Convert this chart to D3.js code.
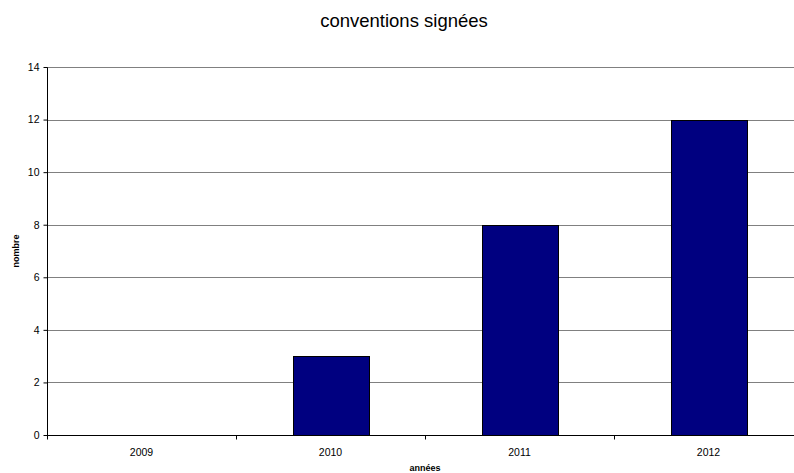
<!DOCTYPE html>
<html>
<head>
<meta charset="utf-8">
<script src="https://cdn.jsdelivr.net/npm/d3@7"></script>
<style>
  body { margin: 0; background: #fff; overflow: hidden; }
  text { font-family: "Liberation Sans", Arial, sans-serif; }
</style>
</head>
<body>
<script>
// données du graphique
var annees = ['2009', '2010', '2011', '2012'];
var conventions = [0, 3, 8, 12];
var yTicks = [0, 2, 4, 6, 8, 10, 12, 14];

var W = 794, H = 473;
var margin = {left: 47, right: -9, top: 67, bottom: 38}; // la zone dépasse à droite
var iw = W - margin.left - margin.right;
var ih = H - margin.top - margin.bottom;

var svg = d3.select('body').append('svg').attr('width', W).attr('height', H);
var g = svg.append('g').attr('transform', 'translate(' + margin.left + ',' + margin.top + ')');

var x = d3.scaleBand().domain(annees).range([0, iw]).paddingInner(0.6).paddingOuter(0.3);
var xb = d3.scaleBand().domain(annees).range([0, iw]); // bornes des catégories
var y = d3.scaleLinear().domain([0, 14]).range([ih, 0]);

// grille horizontale
g.selectAll('.grid').data(yTicks.filter(function(d){ return d > 0; }))
  .enter().append('line')
  .attr('x1', 0).attr('x2', iw)
  .attr('y1', function(d){ return Math.round(y(d)) + 0.5; })
  .attr('y2', function(d){ return Math.round(y(d)) + 0.5; })
  .attr('stroke', '#808080').attr('stroke-width', 1);

// barres
g.selectAll('rect').data(conventions).enter().append('rect')
  .attr('x', function(d, i){ return Math.round(x(annees[i])) + 0.5; })
  .attr('width', Math.round(x.bandwidth()))
  .attr('y', function(d){ return Math.round(y(d)) + 0.5; })
  .attr('height', function(d){ return Math.round(ih - y(d)); })
  .attr('fill', '#000080').attr('stroke', '#000').attr('stroke-width', 1)
  .style('display', function(d){ return d > 0 ? null : 'none'; });

// axe Y
var yAxis = d3.axisLeft(y).tickValues(yTicks).tickSize(4).tickPadding(4);
var ya = g.append('g').attr('transform', 'translate(0.5,0)').call(yAxis);
ya.select('.domain').attr('stroke', '#000').attr('d', 'M0,' + (Math.round(ih) + 0.5) + 'V0.5');
ya.selectAll('.tick line').attr('stroke', '#000');
ya.selectAll('text').attr('font-size', '10.5px').attr('fill', '#000')
  .style('font-family', '"Liberation Sans", Arial, sans-serif');

// axe X
var xa = g.append('g').attr('transform', 'translate(0,' + (Math.round(ih) + 0.5) + ')');
xa.append('line').attr('x1', 0).attr('x2', iw).attr('stroke', '#000');
xa.selectAll('.tk').data(annees).enter().append('line')
  .attr('x1', function(d){ return Math.round(xb(d)) + 0.5; })
  .attr('x2', function(d){ return Math.round(xb(d)) + 0.5; })
  .attr('y1', 0).attr('y2', 4).attr('stroke', '#000');
xa.selectAll('.lbl').data(annees).enter().append('text')
  .attr('x', function(d){ return xb(d) + xb.bandwidth() / 2; })
  .attr('y', 20).attr('text-anchor', 'middle')
  .attr('font-size', '10.5px').text(function(d){ return d; });

// titres
svg.append('text').attr('x', 404).attr('y', 27).attr('text-anchor', 'middle')
  .attr('font-size', '18.5px').text('conventions signées');
svg.append('text').attr('x', margin.left + iw / 2).attr('y', 471).attr('text-anchor', 'middle')
  .attr('font-size', '9px').attr('font-weight', 'bold').text('années');
svg.append('text').attr('transform', 'translate(19,' + (margin.top + ih / 2) + ') rotate(-90)')
  .attr('text-anchor', 'middle').attr('font-size', '9px').attr('font-weight', 'bold').text('nombre');
</script>
</body>
</html>
